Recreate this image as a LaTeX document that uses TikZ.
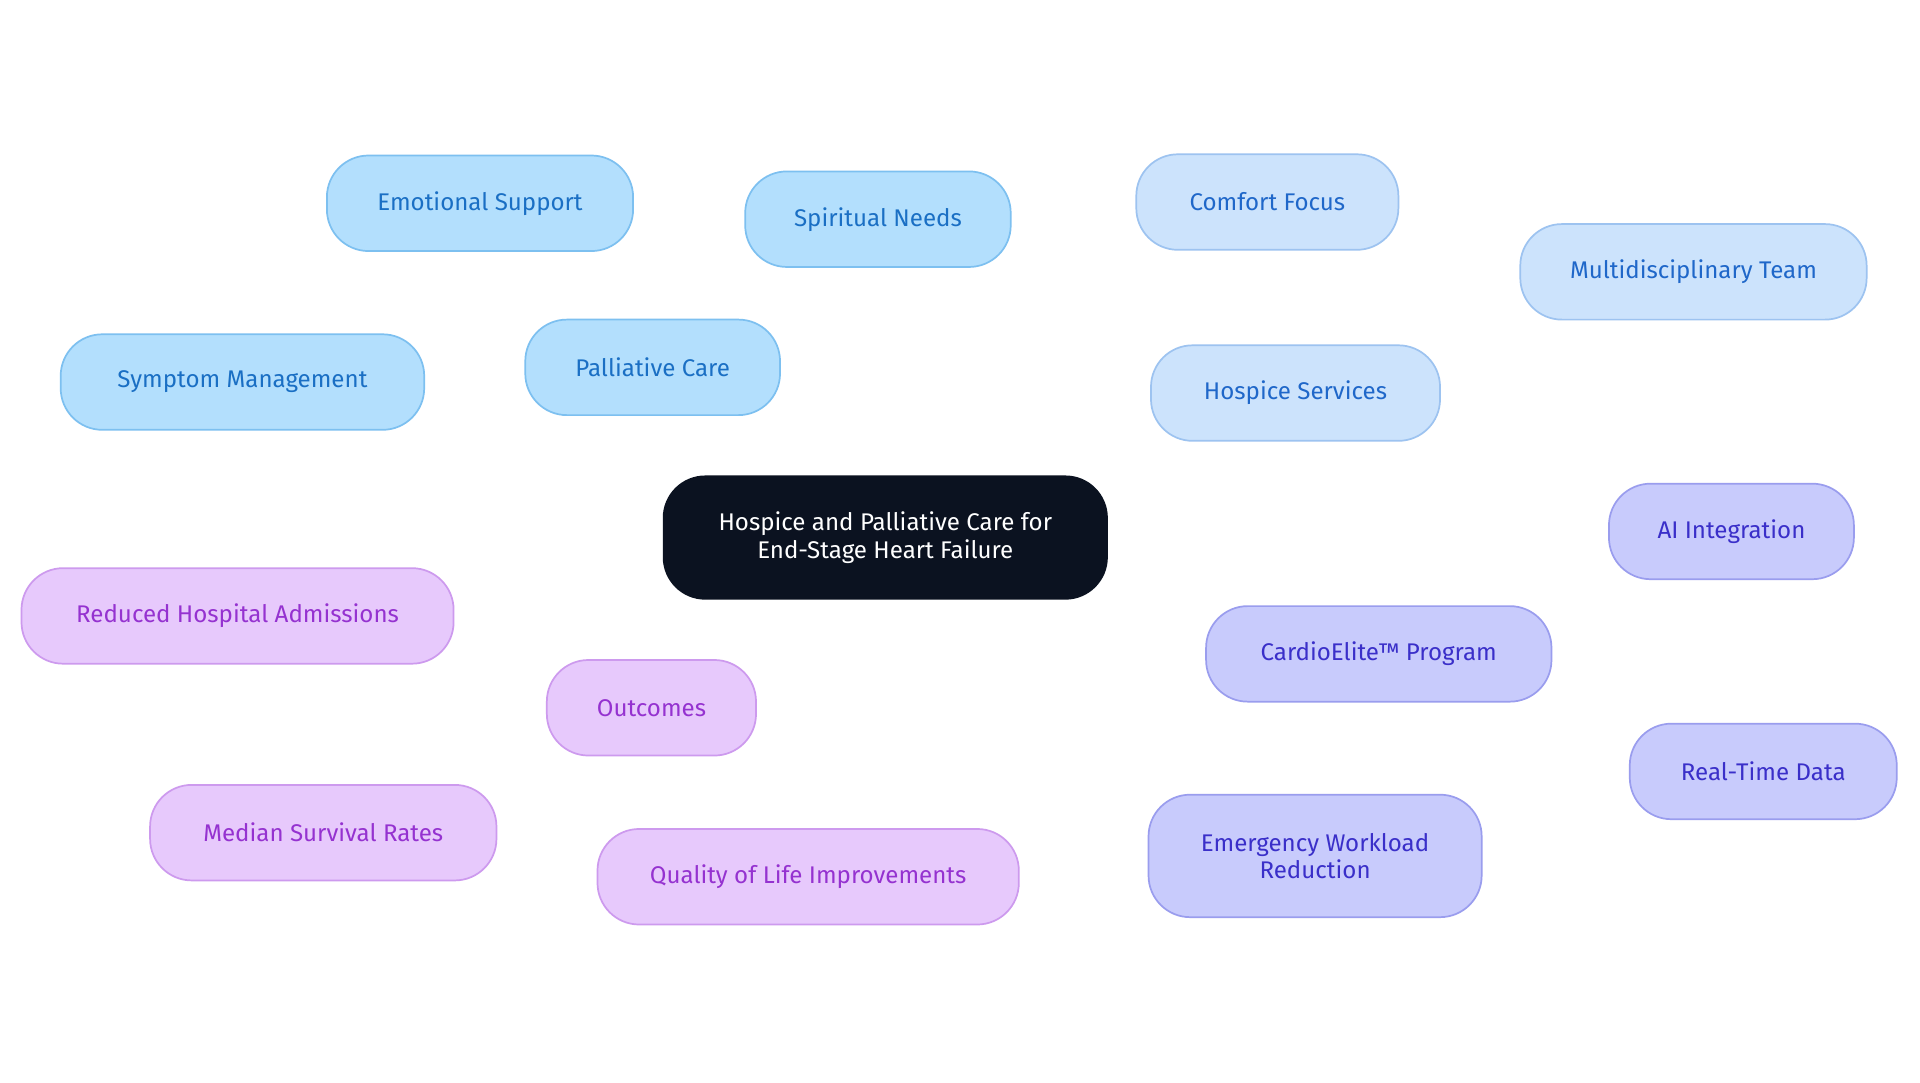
\documentclass[tikz,border=0pt]{standalone}
\usepackage{fontspec}
\setmainfont{Fira Sans}
\usetikzlibrary{backgrounds}
\definecolor{rootfill}{HTML}{0B1220}
\definecolor{palfill}{HTML}{B3DFFD}
\definecolor{palline}{HTML}{7DC0F0}
\definecolor{paltext}{HTML}{1A6FC4}
\definecolor{hosfill}{HTML}{CCE3FC}
\definecolor{hosline}{HTML}{9DC3F0}
\definecolor{hostext}{HTML}{1F67C9}
\definecolor{carfill}{HTML}{C8CBFC}
\definecolor{carline}{HTML}{9A9DEE}
\definecolor{cartext}{HTML}{3A2FC9}
\definecolor{resfill}{HTML}{E7C9FC}
\definecolor{resline}{HTML}{CD9AEE}
\definecolor{restext}{HTML}{9532D0}
\tikzset{
  box/.style={draw, line width=1pt, rounded corners=0.85cm, minimum height=1.95cm,
    align=center, font=\fontsize{14}{16}\selectfont, inner sep=0pt},
  pal/.style={box, fill=palfill, draw=palline, text=paltext},
  hos/.style={box, fill=hosfill, draw=hosline, text=hostext},
  car/.style={box, fill=carfill, draw=carline, text=cartext},
  res/.style={box, fill=resfill, draw=resline, text=restext},
  link/.style={line width=2pt}
}
\begin{document}
\begin{tikzpicture}[x=0.025cm,y=-0.025cm]
\useasboundingbox[fill=white] (0,0) rectangle (1568,884);
% root
\node[box, fill=rootfill, draw=rootfill, text=white, minimum width=9.05cm, minimum height=2.5cm] (root) at (723,439) {Hospice and Palliative Care for\\End-Stage Heart Failure};
% palliative care branch
\node[pal, minimum width=5.2cm] (pal) at (533,300) {Palliative Care};
\node[pal, minimum width=6.25cm] (emo) at (392,166) {Emotional Support};
\node[pal, minimum width=5.42cm] (spi) at (717,179) {Spiritual Needs};
\node[pal, minimum width=7.42cm] (sym) at (198,312) {Symptom Management};
% hospice branch
\node[hos, minimum width=5.9cm] (hos) at (1058,321) {Hospice Services};
\node[hos, minimum width=5.35cm] (com) at (1035,165) {Comfort Focus};
\node[hos, minimum width=7.07cm] (mul) at (1383,222) {Multidisciplinary Team};
% cardioelite branch
\node[car, minimum width=7.05cm] (car) at (1126,534) {CardioElite™ Program};
\node[car, minimum width=5cm] (ai) at (1414,434) {AI Integration};
\node[car, minimum width=5.45cm] (rtd) at (1440,630) {Real-Time Data};
\node[car, minimum width=6.8cm, minimum height=2.5cm] (emw) at (1074,699) {Emergency Workload\\Reduction};
% outcomes branch
\node[res, minimum width=4.27cm] (res) at (532,578) {Outcomes};
\node[res, minimum width=8.82cm] (rha) at (194,503) {Reduced Hospital Admissions};
\node[res, minimum width=7.07cm] (msr) at (264,680) {Median Survival Rates};
\node[res, minimum width=8.6cm] (qol) at (660,716) {Quality of Life Improvements};
\begin{scope}[on background layer]
\draw[link, palline] (root) -- (pal);
\draw[link, palline] (pal) -- (emo);
\draw[link, palline] (pal) -- (spi);
\draw[link, palline] (pal) -- (sym);
\draw[link, hosline] (root) -- (hos);
\draw[link, hosline] (hos) -- (com);
\draw[link, hosline] (hos) -- (mul);
\draw[link, carline] (root) -- (car);
\draw[link, carline] (car) -- (ai);
\draw[link, carline] (car) -- (rtd);
\draw[link, carline] (car) -- (emw);
\draw[link, resline] (root) -- (res);
\draw[link, resline] (res) -- (rha);
\draw[link, resline] (res) -- (msr);
\draw[link, resline] (res) -- (qol);
\end{scope}
\end{tikzpicture}
\end{document}
